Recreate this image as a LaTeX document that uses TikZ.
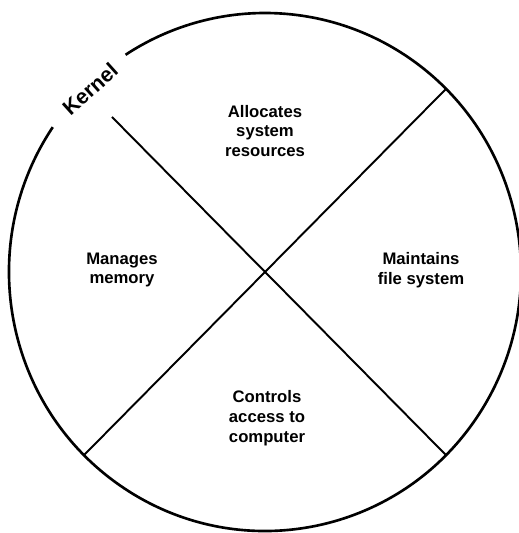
\documentclass[tikz,border=0pt]{standalone}
\usepackage{fontspec}
\setmainfont{Liberation Sans}
\begin{document}
\begin{tikzpicture}[x=0.02cm,y=0.02cm,
    task/.style={align=center,font=\bfseries\fontsize{9.5}{11.3}\selectfont},
    rim/.style={line width=1.5pt},
    split/.style={line width=1.1pt}]
    \useasboundingbox (0,0) rectangle (519,533);
    \coordinate (hub) at (265,261);
    \path (hub) ++(45:256 and 259) coordinate (ne);
    \path (hub) ++(225:256 and 259) coordinate (sw);
    \path (hub) ++(315:256 and 259) coordinate (se);
    \coordinate (nw) at (112,416);

    % rim, open where the label sits
    \draw[rim] (hub) ++(146:256 and 259)
        arc[start angle=146,end angle=483,x radius=256,y radius=259];
    \node[font=\bfseries\fontsize{12}{14}\selectfont,rotate=42] (kernel) at (90,444) {Kernel};

    \draw[split] (nw) -- (se);
    \draw[split] (sw) -- (ne);

    \node[task] (alloc) at (265,402) {Allocates\\system\\resources};
    \node[task] (mem) at (122,263) {Manages\\memory};
    \node[task] (files) at (421,263) {Maintains\\file system};
    \node[task] (access) at (267,115) {Controls\\access to\\computer};
\end{tikzpicture}
\end{document}
